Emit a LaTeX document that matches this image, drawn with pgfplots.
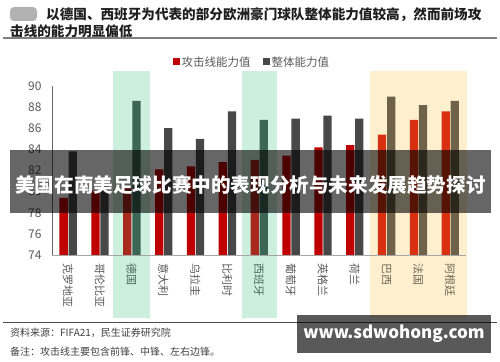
\documentclass[border=0pt]{standalone}
\usepackage{fontspec}
\setmainfont{Noto Sans CJK SC}
\usepackage{pgfplots}
\pgfplotsset{compat=1.18}
\definecolor{barred}{HTML}{C00000}
\definecolor{bardark}{HTML}{484848}
\definecolor{gred}{HTML}{A82A1E}
\definecolor{gdark}{HTML}{3E6656}
\definecolor{yred}{HTML}{D83010}
\definecolor{ydark}{HTML}{6E6248}
\definecolor{gbg}{HTML}{CDEFDD}
\definecolor{ybg}{HTML}{FEF0CF}
\definecolor{lab}{HTML}{595959}
\definecolor{glab}{HTML}{4A6A5C}
\definecolor{ylab}{HTML}{6E6452}
\begin{document}
\begin{tikzpicture}
\path (0,0) rectangle (500bp,362bp);
% logo blob
\fill[black!30, rounded corners=4bp] (10bp,341bp) rectangle (37bp,355bp);
% title
\node[anchor=west, inner sep=0pt, font=\fontsize{13.6bp}{16bp}\selectfont\bfseries, text=black!88] at (46bp,347bp) {以德国、西班牙为代表的部分欧洲豪门球队整体能力值较高，然而前场攻};
\node[anchor=west, inner sep=0pt, font=\fontsize{13.6bp}{16bp}\selectfont\bfseries, text=black!88] at (10bp,331bp) {击线的能力明显偏低};
\draw[black!50, line width=1.5bp] (3bp,324bp) -- (497bp,324bp);
% bottom
\draw[black!70, line width=1bp] (3bp,39.5bp) -- (497bp,39.5bp);
\node[anchor=west, inner sep=0pt, font=\fontsize{10bp}{12bp}\selectfont, text=black!75] at (10bp,29bp) {资料来源：FIFA21，民生证券研究院};
\node[anchor=west, inner sep=0pt, font=\fontsize{10bp}{12bp}\selectfont, text=black!75] at (10bp,10bp) {备注：攻击线主要包含前锋、中锋、左右边锋。};
\begin{axis}[
  set layers,
  at={(52bp,107bp)}, anchor=south west,
  scale only axis, width=414bp, height=169bp,
  xmin=-0.5, xmax=12.5, ymin=74, ymax=90,
  ytick={74,76,...,90},
  xtick={0,...,12},
  xticklabels={克罗地亚,哥伦比亚,\textcolor{glab}{德国},意大利,乌拉圭,比利时,\textcolor{glab}{西班牙},葡萄牙,英格兰,荷兰,\textcolor{ylab}{巴西},\textcolor{ylab}{法国},\textcolor{ylab}{阿根廷}},
  axis x line*=bottom, axis y line*=left,
  x axis line style={draw=black!35, -, line width=0.8bp},
  y axis line style={draw=black!60, -, line width=0.8bp},
  major tick length=0pt,
  clip=false,
  tick label style={text=lab},
  /pgf/number format/assume math mode=true,
  yticklabel style={font=\fontsize{12bp}{12bp}\selectfont, anchor=east, xshift=-7bp},
  xticklabel style={font=\fontsize{11bp}{11bp}\selectfont, rotate=-90, anchor=west, xshift=5bp},
  legend style={at={(axis description cs:0.483,1.142)}, anchor=center, draw=none, fill=none, legend columns=2, font=\fontsize{11.5bp}{12bp}\selectfont, text=lab, /tikz/every even column/.append style={column sep=10bp}},
  legend image code/.code={\fill[#1] (0bp,-3.5bp) rectangle (7bp,3.5bp);},
]
\begin{pgfonlayer}{axis background}
\fill[gbg] (axis cs:1.42,68.03) rectangle (axis cs:2.58,91.45);
\fill[gbg] (axis cs:5.46,68.03) rectangle (axis cs:6.58,91.45);
\fill[ybg] (axis cs:9.48,68.03) rectangle (axis cs:12.53,91.45);
\end{pgfonlayer}
% attack line
\addplot[ybar, bar width=0.26, bar shift=-0.135, fill=barred, draw=none] coordinates {(0,79.4) (1,80.1) (3,82.1) (4,82.4) (5,82.8) (7,83.4) (8,84.2) (9,84.4)};
\addlegendentry{攻击线能力值}
\addplot[ybar, bar width=0.26, bar shift=0.15, fill=bardark, draw=none] coordinates {(0,83.8) (1,80.6) (3,86.0) (4,85.0) (5,87.6) (7,86.9) (8,87.2) (9,86.9)};
\addlegendentry{整体能力值}
\addplot[ybar, bar width=0.26, bar shift=-0.135, fill=gred, draw=none, forget plot] coordinates {(2,80.5) (6,83.0)};
\addplot[ybar, bar width=0.26, bar shift=0.15, fill=gdark, draw=none, forget plot] coordinates {(2,88.6) (6,86.8)};
\addplot[ybar, bar width=0.26, bar shift=-0.135, fill=yred, draw=none, forget plot] coordinates {(10,85.4) (11,86.8) (12,87.6)};
\addplot[ybar, bar width=0.26, bar shift=0.15, fill=ydark, draw=none, forget plot] coordinates {(10,89.0) (11,88.2) (12,88.6)};
\end{axis}
% watermark banner
\fill[black, opacity=0.6] (10bp,149bp) rectangle (491bp,212bp);
\node[inner sep=0pt, font=\fontsize{19.6bp}{22bp}\selectfont\bfseries, text=white] at (250.5bp,177bp) {美国在南美足球比赛中的表现分析与未来发展趋势探讨};
\fill[black, opacity=0.65] (297bp,9.3bp) rectangle (491bp,47bp);
\node[inner sep=0pt, font=\fontsize{17bp}{20bp}\selectfont\bfseries, text=white] at (394bp,28bp) {www.sdwohong.com};
\end{tikzpicture}
\end{document}
